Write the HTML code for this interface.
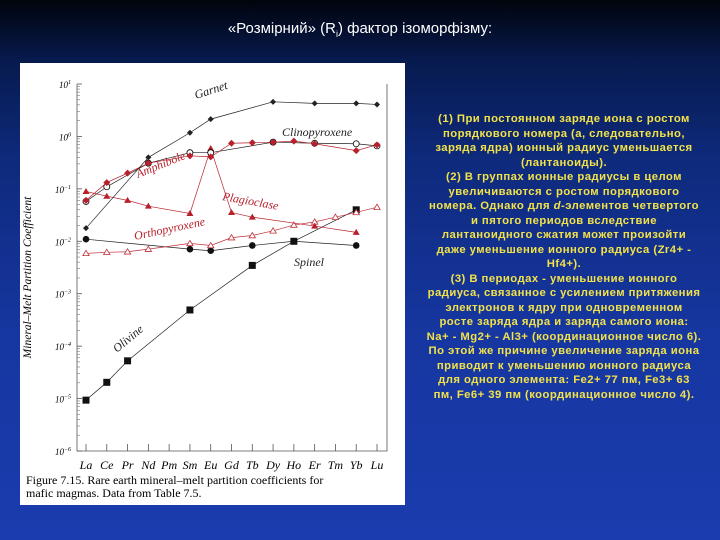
<!DOCTYPE html>
<html><head><meta charset="utf-8"><style>
html,body{margin:0;padding:0}
body{width:720px;height:540px;overflow:hidden;position:relative;font-family:"Liberation Sans",sans-serif;
background:linear-gradient(180deg,#01040c 0px,#071a4e 60px,#0e2a7c 160px,#1636a0 330px,#1a3cae 540px);}
#title{position:absolute;left:0;width:720px;top:20px;text-align:center;color:#fff;font-size:15px;}
#panel{position:absolute;left:20px;top:63px;width:385px;height:442px;background:#fff;}
#txt{position:absolute;left:409px;top:112px;width:310px;text-align:center;color:#f2e24a;font-weight:bold;font-size:11.3px;line-height:14.5px;white-space:nowrap;letter-spacing:0.45px;}
</style></head><body>
<div id="title">«Розмірний» (R<sub style="font-size:9px">i</sub>) фактор ізоморфізму:</div>
<div id="panel">
<svg id="chart" width="385" height="442"></svg>
</div>
<div id="txt">(1) При постоянном заряде иона с ростом<br>порядкового номера (а, следовательно,<br>заряда ядра) ионный радиус уменьшается<br>(лантаноиды).<br>(2) В группах ионные радиусы в целом<br>увеличиваются с ростом порядкового<br>номера. Однако для <i>d</i>-элементов четвертого<br>и пятого периодов вследствие<br>лантаноидного сжатия может произойти<br>даже уменьшение ионного радиуса (Zr4+ -<br>Hf4+).<br>(3) В периодах - уменьшение ионного<br>радиуса, связанное с усилением притяжения<br>электронов к ядру при одновременном<br>росте заряда ядра и заряда самого иона:<br>Na+ - Mg2+ - Al3+ (координационное число 6).<br>По этой же причине увеличение заряда иона<br>приводит к уменьшению ионного радиуса<br>для одного элемента: Fe2+ 77 пм, Fe3+ 63<br>пм, Fe6+ 39 пм (координационное число 4).</div>
<script>
const elements=["La","Ce","Pr","Nd","Pm","Sm","Eu","Gd","Tb","Dy","Ho","Er","Tm","Yb","Lu"];
const yTickExp=[1,0,-1,-2,-3,-4,-5,-6];
const garnetIdx=[0,3,5,6,9,11,13,14];
const garnetLog=[-1.75,-0.40,0.07,0.33,0.66,0.63,0.63,0.61];
const cpxIdx=[0,1,3,5,6,9,11,13,14];
const cpxLog=[-1.24,-0.96,-0.51,-0.31,-0.31,-0.11,-0.13,-0.14,-0.18];
const amphIdx=[0,1,2,3,5,6,7,8,9,10,11,13,14];
const amphLog=[-1.22,-0.88,-0.70,-0.51,-0.37,-0.39,-0.13,-0.12,-0.11,-0.09,-0.14,-0.27,-0.16];
const plagIdx=[0,1,2,3,5,6,7,8,11,13];
const plagLog=[-1.05,-1.14,-1.22,-1.33,-1.47,-0.23,-1.45,-1.54,-1.71,-1.83];
const opxIdx=[0,1,2,3,5,6,7,8,9,10,11,12,13,14];
const opxLog=[-2.23,-2.21,-2.20,-2.15,-2.04,-2.08,-1.93,-1.89,-1.80,-1.69,-1.63,-1.54,-1.45,-1.35];
const spinelIdx=[0,5,6,8,10,13];
const spinelLog=[-1.96,-2.15,-2.18,-2.08,-2.00,-2.08];
const olivineIdx=[0,1,2,5,8,10,13];
const olivineLog=[-5.03,-4.69,-4.28,-3.31,-2.46,-2.00,-1.40];

const svg=document.getElementById('chart');const NS='http://www.w3.org/2000/svg';
const X0=57,X1=367,Y0=21,Y1=388;
function xs(i){return 66+i*(357-66)/14;}
function ys(v){return Y0+(1-v)*(Y1-Y0)/7;}
function mk(t,a,p){const e=document.createElementNS(NS,t);for(const k in a)e.setAttribute(k,a[k]);(p||svg).appendChild(e);return e;}
const ser='font-family:"Liberation Serif",serif;font-style:italic;';
let ax=mk('path',{d:`M${X0} ${Y0}V${Y1}H${X1}V${Y0}`,fill:'none',stroke:'#555','stroke-width':0.8});

yTickExp.forEach(e=>{
 const y=ys(e);
 const t=mk('text',{x:X0-6,y:y+4,'text-anchor':'end','font-size':9,style:ser});
 t.innerHTML='10<tspan dy="-4" font-size="6">'+(e<0?'−'+(-e):e)+'</tspan>';
 
 mk('line',{x1:X0,x2:X0+5,y1:y,y2:y,stroke:'#555','stroke-width':0.8});
 if(e>-6)for(let m=2;m<10;m++){const y2=ys(e-1+Math.log10(m));mk('line',{x1:X0,x2:X0+3,y1:y2,y2:y2,stroke:'#777','stroke-width':0.6});}
});
elements.forEach((el,i)=>{
 const x=xs(i);mk('line',{x1:x,x2:x,y1:Y1,y2:Y1-7,stroke:'#555','stroke-width':0.8});
 const t=mk('text',{x:x,y:Y1+18,'text-anchor':'middle','font-size':12,style:ser});t.textContent=el;
 
});
const yt=mk('text',{transform:`translate(11,${(Y0+Y1)/2+10}) rotate(-90)`,'text-anchor':'middle','font-size':11.5,style:ser});
yt.textContent='Mineral–Melt Partition Coefficient';

function series(name,idx,vals,col,marker){
 const g=mk('g',{});
 mk('polyline',{points:idx.map((k,j)=>xs(k)+','+ys(vals[j])).join(' '),fill:'none',stroke:col,'stroke-width':0.7},g);
 idx.forEach((k,j)=>{const x=xs(k),y=ys(vals[j]);let m;
  if(marker==='diamond')m=mk('path',{d:`M${x} ${y-3}L${x+3} ${y}L${x} ${y+3}L${x-3} ${y}Z`,fill:col},g);
  else if(marker==='ocircle')m=mk('circle',{cx:x,cy:y,r:3,fill:'#fff',stroke:'#000','stroke-width':0.8},g);
  else if(marker==='reddot')m=mk('path',{d:`M${x} ${y-3.5}L${x+3.5} ${y}L${x} ${y+3.5}L${x-3.5} ${y}Z`,fill:col},g);
  else if(marker==='ftri')m=mk('path',{d:`M${x} ${y-3.5}L${x+3.5} ${y+2.5}L${x-3.5} ${y+2.5}Z`,fill:col},g);
  else if(marker==='otri')m=mk('path',{d:`M${x} ${y-3}L${x+3.2} ${y+2.3}L${x-3.2} ${y+2.3}Z`,fill:'#fff',stroke:col,'stroke-width':0.8},g);
  else if(marker==='fcircle')m=mk('circle',{cx:x,cy:y,r:3.3,fill:'#111'},g);
  else m=mk('rect',{x:x-3.5,y:y-3.5,width:7,height:7,fill:'#111'},g);
  
 });
}
series('olivine',olivineIdx,olivineLog,'#222','square');
series('spinel',spinelIdx,spinelLog,'#222','fcircle');
series('orthopyroxene',opxIdx,opxLog,'#c0303a','otri');
series('plagioclase',plagIdx,plagLog,'#b8202c','ftri');
series('clinopyroxene',cpxIdx,cpxLog,'#222','ocircle');
series('amphibole',amphIdx,amphLog,'#b8202c','reddot');
series('garnet',garnetIdx,garnetLog,'#222','diamond');
function lab(t,x,y,rot,col,n){const e=mk('text',{x:x,y:y,'font-size':12,fill:col,style:ser,transform:`rotate(${rot} ${x} ${y})`});e.textContent=t;}
lab('Garnet',176,36,-18,'#222','garnet-label');
lab('Clinopyroxene',262,73,0,'#222','clinopyroxene-label');
lab('Amphibole',118,115,-22,'#b8202c','amphibole-label');
lab('Plagioclase',202,137,10,'#b8202c','plagioclase-label');
lab('Orthopyroxene',115,177,-12,'#b8202c','orthopyroxene-label');
lab('Spinel',274,203,0,'#222','spinel-label');
lab('Olivine',97,290,-40,'#222','olivine-label');
const c=mk('text',{x:6,y:421,'font-size':12,style:'font-family:"Liberation Serif",serif'});
c.innerHTML='<tspan x="6">Figure 7.15.  Rare earth mineral–melt partition coefficients for</tspan><tspan x="6" dy="13">mafic magmas.  Data from Table 7.5.</tspan>';

</script>
</body></html>
